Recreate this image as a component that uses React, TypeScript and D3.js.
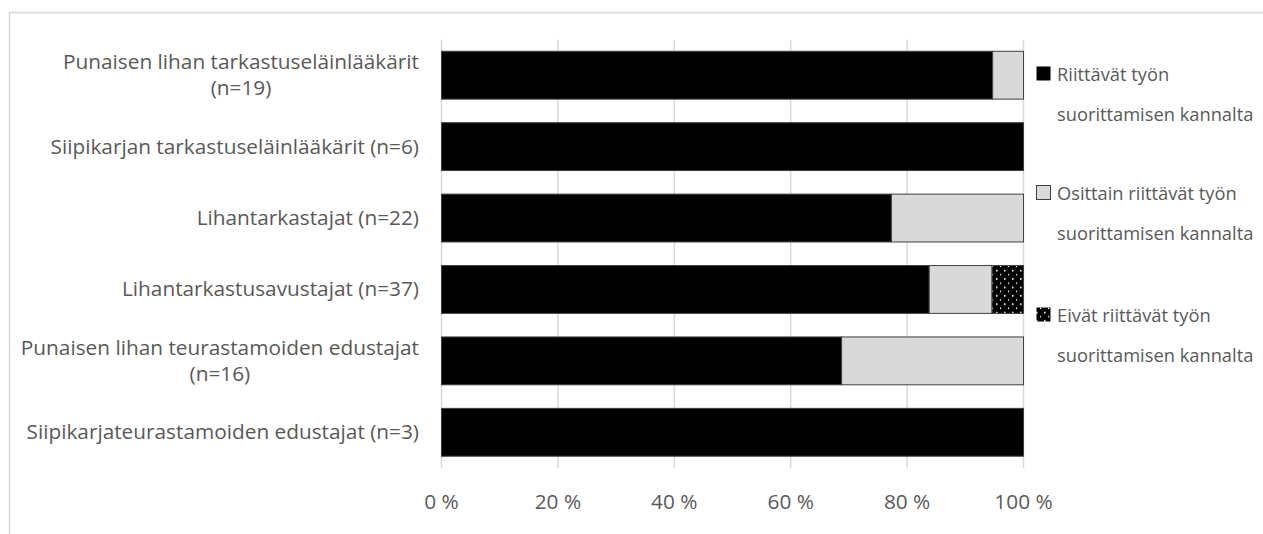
import React, { useEffect, useRef } from "react";
import * as d3 from "d3";

const categoryLines: string[][] = [
  ["Punaisen lihan tarkastuseläinlääkärit", "(n=19)"],
  ["Siipikarjan tarkastuseläinlääkärit (n=6)"],
  ["Lihantarkastajat (n=22)"],
  ["Lihantarkastusavustajat (n=37)"],
  ["Punaisen lihan teurastamoiden edustajat", "(n=16)"],
  ["Siipikarjateurastamoiden edustajat (n=3)"],
];
const riittavat = [94.7, 100, 77.3, 83.8, 68.75, 100];
const osittain = [5.3, 0, 22.7, 10.8, 31.25, 0];
const eivat = [0, 0, 0, 5.4, 0, 0];
const seriesNames = [
  ["Riittävät työn", "suorittamisen kannalta"],
  ["Osittain riittävät työn", "suorittamisen kannalta"],
  ["Eivät riittävät työn", "suorittamisen kannalta"],
];
const tickValues = [0, 20, 40, 60, 80, 100];

const W = 1263;
const H = 534;
const FONT = "'Open Sans', sans-serif";
const TEXT = "#595959";
const LABEL_SIZE = 20.8;

export default function App() {
  const ref = useRef<SVGSVGElement>(null);
  useEffect(() => {
    const svg = d3.select(ref.current);
    svg.selectAll("*").remove();

    const defs = svg.append("defs");
    const pat = defs
      .append("pattern")
      .attr("id", "dots")
      .attr("patternUnits", "userSpaceOnUse")
      .attr("width", 8)
      .attr("height", 8.4);
    pat.append("rect").attr("width", 8).attr("height", 8.4).attr("fill", "#000");
    pat.append("rect").attr("x", 4).attr("y", 1).attr("width", 1.6).attr("height", 1.6).attr("fill", "#fff");
    pat.append("rect").attr("x", 0).attr("y", 5.2).attr("width", 1.2).attr("height", 1.4).attr("fill", "#fff");

    // frame
    svg
      .append("path")
      .attr("d", `M9.5,${H} V12.5 H${W}`)
      .attr("fill", "none")
      .attr("stroke", "#d9d9d9")
      .attr("stroke-width", 1.5);

    const ids = categoryLines.map((_, i) => String(i));
    const x = d3.scaleLinear().domain([0, 100]).range([441.5, 1023.5]);
    const y = d3
      .scaleBand<string>()
      .domain(ids)
      .range([39.5, 468])
      .paddingInner(0.33)
      .paddingOuter(0.165);

    // gridlines
    svg
      .append("g")
      .selectAll("line")
      .data(tickValues)
      .join("line")
      .attr("x1", (d) => x(d))
      .attr("x2", (d) => x(d))
      .attr("y1", 39.5)
      .attr("y2", 468)
      .attr("stroke", "#d9d9d9")
      .attr("stroke-width", 1.5);

    // tick labels
    svg
      .append("g")
      .selectAll("text")
      .data(tickValues)
      .join("text")
      .attr("x", (d) => x(d))
      .attr("y", 509)
      .attr("text-anchor", "middle")
      .attr("font-family", FONT)
      .attr("font-size", LABEL_SIZE)
      .attr("fill", TEXT)
      .text((d) => `${d} %`);

    const stacks = [riittavat, osittain, eivat];
    const fills = ["#000000", "#d9d9d9", "url(#dots)"];
    ids.forEach((id, i) => {
      let acc = 0;
      stacks.forEach((s, k) => {
        const v = s[i];
        if (v <= 0) return;
        svg
          .append("rect")
          .attr("x", x(acc))
          .attr("y", y(id)!)
          .attr("width", x(acc + v) - x(acc))
          .attr("height", y.bandwidth())
          .attr("fill", fills[k])
          .attr("stroke", "#404040")
          .attr("stroke-width", 1);
        acc += v;
      });
    });

    // category labels
    const labelRight = 419;
    ids.forEach((id, i) => {
      const lines = categoryLines[i];
      const cy = y(id)! + y.bandwidth() / 2;
      if (lines.length === 1) {
        svg
          .append("text")
          .attr("x", labelRight)
          .attr("y", cy + 7)
          .attr("text-anchor", "end")
          .attr("font-family", FONT)
          .attr("font-size", LABEL_SIZE)
          .attr("fill", TEXT)
          .text(lines[0]);
      } else {
        const t1 = svg
          .append("text")
          .attr("x", labelRight)
          .attr("y", cy - 6)
          .attr("text-anchor", "end")
          .attr("font-family", FONT)
          .attr("font-size", LABEL_SIZE)
          .attr("fill", TEXT)
          .text(lines[0]);
        const w1 = (t1.node() as SVGTextElement).getComputedTextLength();
        svg
          .append("text")
          .attr("x", labelRight - w1 / 2)
          .attr("y", cy + 20)
          .attr("text-anchor", "middle")
          .attr("font-family", FONT)
          .attr("font-size", LABEL_SIZE)
          .attr("fill", TEXT)
          .text(lines[1]);
      }
    });

    // legend
    const legendBase = [81, 200, 322];
    seriesNames.forEach((lines, k) => {
      const b = legendBase[k];
      svg
        .append("rect")
        .attr("x", 1036.5)
        .attr("y", b - 14.5)
        .attr("width", 14)
        .attr("height", 14)
        .attr("fill", fills[k])
        .attr("stroke", k === 1 ? "#404040" : "none")
        .attr("stroke-width", 1);
      lines.forEach((ln, j) => {
        svg
          .append("text")
          .attr("x", 1057)
          .attr("y", b + j * 40)
          .attr("font-family", FONT)
          .attr("font-size", 18.3)
          .attr("fill", TEXT)
          .text(ln);
      });
    });
  }, []);

  return (
    <svg
      ref={ref}
      width={W}
      height={H}
      style={{ position: "absolute", left: 0, top: 0, background: "#fff" }}
    />
  );
}
